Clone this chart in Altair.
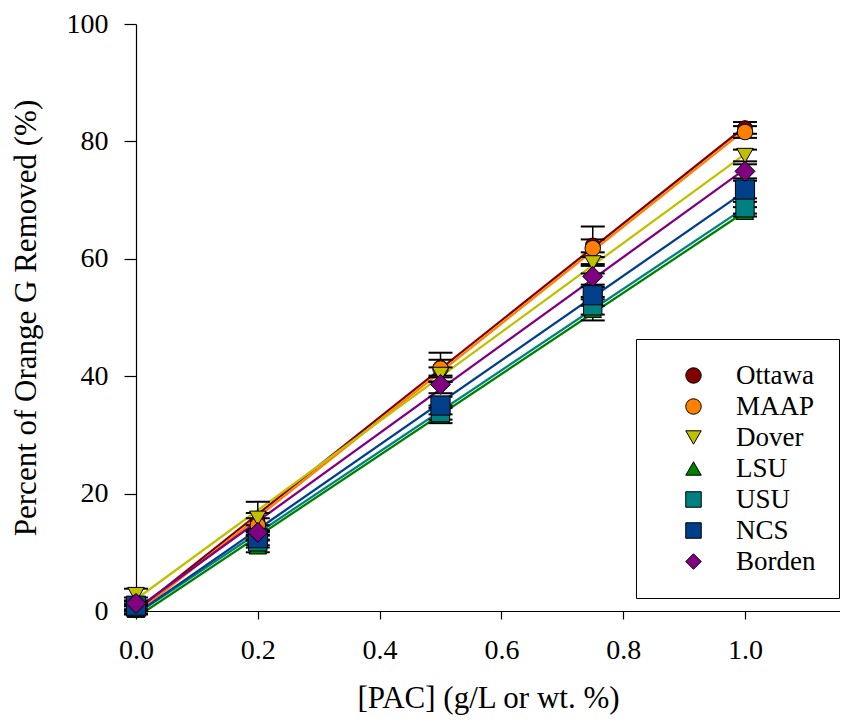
import altair as alt
import pandas as pd

# ---- data ----
pac = [0.0, 0.2, 0.5, 0.75, 1.0]
series = ["Ottawa", "MAAP", "Dover", "LSU", "USU", "NCS", "Borden"]
removed = {
    "Ottawa": [0.8, 15.2, 41.5, 62.3, 82.3],
    "MAAP":   [0.2, 14.6, 41.3, 61.8, 81.6],
    "Dover":  [2.8, 15.8, 40.3, 59.3, 77.6],
    "LSU":    [0.2, 11.0, 33.3, 51.3, 68.0],
    "USU":    [0.6, 11.8, 33.8, 52.0, 68.7],
    "NCS":    [0.9, 12.4, 35.0, 53.8, 71.8],
    "Borden": [1.3, 13.4, 38.6, 57.0, 74.9],
}
errors = {
    "Ottawa": [0.8, 1.5, 2.5, 3.2, 1.0],
    "MAAP":   [0.8, 1.2, 1.5, 1.5, 1.0],
    "Dover":  [1.0, 2.8, 1.2, 1.8, 1.0],
    "LSU":    [0.6, 1.0, 1.3, 1.8, 0.8],
    "USU":    [0.6, 1.0, 1.2, 1.5, 1.0],
    "NCS":    [0.8, 1.2, 1.5, 1.8, 1.5],
    "Borden": [1.0, 1.2, 1.5, 1.8, 1.2],
}
colors = ["#800000", "#FF8000", "#C0C000", "#008000", "#008080", "#00408A", "#800080"]
shapes = ["circle", "circle", "triangle-down", "triangle-up", "square", "square", "diamond"]
sizes = [260, 260, 260, 260, 210, 210, 400]
x_ticks = [0.0, 0.2, 0.4, 0.6, 0.8, 1.0]
y_ticks = [0, 20, 40, 60, 80, 100]

rows = []
for i, s in enumerate(series):
    for xv, yv, ev in zip(pac, removed[s], errors[s]):
        rows.append({"pac": xv, "pct": yv, "lo": yv - ev, "hi": yv + ev,
                     "series": s, "ord": i})
df = pd.DataFrame(rows)

FONT = "Liberation Serif, Times New Roman, DejaVu Serif, serif"

xscale = alt.Scale(domain=[0, 1.156], nice=False, zero=True)
yscale = alt.Scale(domain=[0, 100], nice=False)
cscale = alt.Scale(domain=series, range=colors)
sscale = alt.Scale(domain=series, range=shapes)
# separate (reversed-order) scales so that their hidden legends are not merged
stroke_scale = alt.Scale(domain=series[::-1], range=colors[::-1])
zscale = alt.Scale(domain=series[::-1], range=sizes[::-1])

xaxis = alt.Axis(values=x_ticks, format=".1f", title="[PAC] (g/L or wt. %)",
                 tickSize=8, labelPadding=17, titlePadding=19, grid=False,
                 labelFlush=False)
yaxis = alt.Axis(values=y_ticks, format="d", title="Percent of Orange G Removed (%)",
                 tickSize=12, labelPadding=16, titlePadding=24, grid=False)

leg = alt.Legend(title=None, orient="none", legendX=500, legendY=315,
                 padding=23, symbolOffset=21, labelOffset=29,
                 rowPadding=3, symbolSize=240,
                 symbolStrokeColor="black", symbolStrokeWidth=1,
                 labelFont=FONT, labelFontSize=27, labelColor="black",
                 strokeColor="black", fillColor="white", labelLimit=300)

base = alt.Chart(df)

lines = base.transform_regression(
    "pac", "pct", groupby=["series"], extent=[0, 1]
).mark_line(strokeWidth=2.3).encode(
    x=alt.X("pac:Q", scale=xscale, axis=xaxis),
    y=alt.Y("pct:Q", scale=yscale, axis=yaxis),
    stroke=alt.Stroke("series:N", scale=stroke_scale, legend=None),
    detail="series:N",
)

err_rule = base.mark_rule(color="black", strokeWidth=1.5, opacity=1).encode(
    x="pac:Q", y="lo:Q", y2="hi:Q"
)
cap_lo = base.mark_tick(color="black", orient="horizontal", size=24, thickness=2,
                        opacity=1).encode(x="pac:Q", y="lo:Q")
cap_hi = base.mark_tick(color="black", orient="horizontal", size=24, thickness=2,
                        opacity=1).encode(x="pac:Q", y="hi:Q")

points = base.mark_point(filled=True, stroke="black", strokeWidth=1, opacity=1).encode(
    x="pac:Q",
    y="pct:Q",
    color=alt.Color("series:N", scale=cscale, legend=leg),
    shape=alt.Shape("series:N", scale=sscale, legend=leg),
    size=alt.Size("series:N", scale=zscale, legend=None),
    order=alt.Order("ord:Q"),
)

chart = alt.layer(lines, err_rule, cap_lo, cap_hi, points).properties(
    width=704, height=587,
    autosize=alt.AutoSizeParams(type="none"),
    padding={"left": 128, "top": 16, "right": 0, "bottom": 110},
).configure_view(stroke=None).configure_axis(
    labelFont=FONT, titleFont=FONT, labelFontSize=28, titleFontSize=31,
    labelColor="black", titleColor="black", titleFontWeight="normal",
    domainColor="black", tickColor="black", domainWidth=1.2, tickWidth=1.2,
).configure_legend(
    labelFont=FONT, labelFontSize=27, labelColor="black",
)

chart.save("out.html", embed_options={"renderer": "svg", "actions": False})
